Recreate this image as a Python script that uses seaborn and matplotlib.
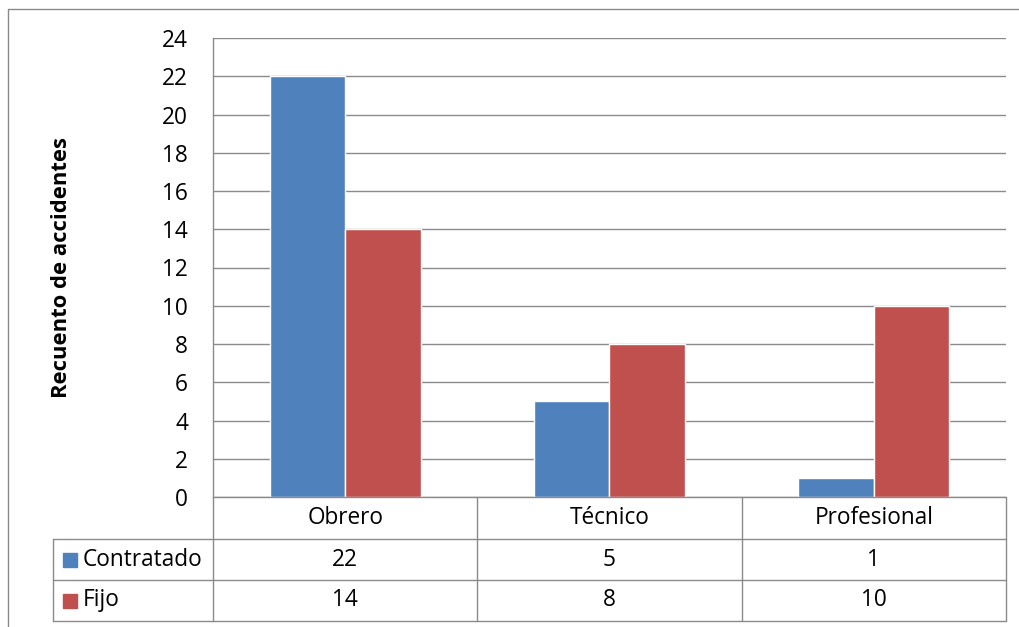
import matplotlib
matplotlib.use('Agg')
import matplotlib.pyplot as plt
import matplotlib.transforms as mtransforms
from matplotlib.lines import Line2D
from matplotlib.patches import Rectangle
import seaborn as sns
import pandas as pd

categories = ['Obrero', 'Técnico', 'Profesional']
series = ['Contratado', 'Fijo']
contratado = [22, 5, 1]
fijo = [14, 8, 10]
yticks = list(range(0, 25, 2))
ylabel = 'Recuento de accidentes'

colors = ['#4F81BD', '#C0504D']
grid = '#8a8a8a'

sns.set_theme(style='white')
plt.rcParams['font.family'] = ['Open Sans', 'DejaVu Sans']

W, H = 1020, 627
fig = plt.figure(figsize=(10.2, 6.27), dpi=100)


def fx(px):
    return px / W


def fy(py):
    return 1 - py / H


ax = fig.add_axes([fx(213), fy(497), fx(1006) - fx(213), fy(38) - fy(497)])

df = pd.DataFrame({
    'cat': categories * 2,
    'serie': [series[0]] * 3 + [series[1]] * 3,
    'val': contratado + fijo,
})
sns.barplot(data=df, x='cat', y='val', hue='serie', order=categories,
            hue_order=series, palette=colors, width=0.57, saturation=1,
            gap=0, legend=False, ax=ax, zorder=2)

fs = 16.3

ax.set_xlim(-0.5, len(categories) - 0.5)
ax.set_ylim(0, 24)
ax.set_yticks(yticks)
ax.yaxis.grid(True, color=grid, lw=1)
ax.set_axisbelow(True)
ax.set_xticks([])
ax.set_xlabel('')
ax.set_ylabel('')
for s in ['top', 'right', 'bottom']:
    ax.spines[s].set_visible(False)
ax.spines['left'].set_color(grid)
ax.spines['left'].set_linewidth(1)
ax.tick_params(axis='y', length=0, pad=18, labelsize=fs, labelcolor='black')

fig.text(fx(62), fy(267), ylabel, rotation=90, ha='center', va='center',
         fontsize=15.8, fontweight='bold', color='black')

# Data table
tr = mtransforms.blended_transform_factory(ax.transData, fig.transFigure)
rows_y = [497, 539, 580, 621]
x0 = -0.5
x1 = len(categories) - 0.5
left_px = 53

fig.add_artist(Line2D([x0, x1], [fy(rows_y[0])] * 2, transform=tr, color=grid, lw=1))
for y in rows_y[1:]:
    fig.add_artist(Line2D([fx(left_px), fx(213)], [fy(y)] * 2, color=grid, lw=1))
    fig.add_artist(Line2D([x0, x1], [fy(y)] * 2, transform=tr, color=grid, lw=1))
for i in range(len(categories) + 1):
    xb = i - 0.5
    fig.add_artist(Line2D([xb, xb], [fy(rows_y[0]), fy(rows_y[-1])], transform=tr,
                          color=grid, lw=1))
fig.add_artist(Line2D([fx(left_px)] * 2, [fy(rows_y[1]), fy(rows_y[-1])], color=grid, lw=1))

for i, c in enumerate(categories):
    fig.text(i, fy((rows_y[0] + rows_y[1]) / 2), c, transform=tr, ha='center',
             va='center', fontsize=fs, color='black')
    for r, vals in enumerate([contratado, fijo]):
        yc = (rows_y[r + 1] + rows_y[r + 2]) / 2
        fig.text(i, fy(yc), str(vals[i]), transform=tr, ha='center',
                 va='center', fontsize=fs, color='black')

for r, name in enumerate(series):
    yc = (rows_y[r + 1] + rows_y[r + 2]) / 2
    fig.add_artist(Rectangle((fx(63), fy(yc + 7)), fx(14), fy(0) - fy(14),
                             color=colors[r], transform=fig.transFigure))
    fig.text(fx(83), fy(yc), name, ha='left', va='center', fontsize=fs, color='black')

fig.add_artist(Line2D([fx(8), 1], [fy(9), fy(9)], color=grid, lw=1))
fig.add_artist(Line2D([fx(8), fx(8)], [fy(9), 0], color=grid, lw=1))

fig.savefig('out.png', dpi=100, facecolor='white')
